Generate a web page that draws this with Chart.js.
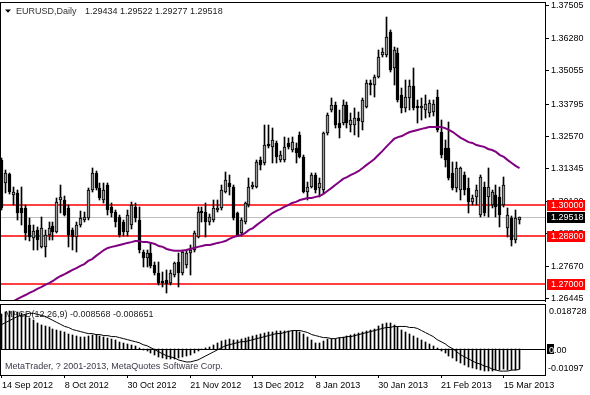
<!DOCTYPE html>
<html><head><meta charset="utf-8">
<script src="https://cdn.jsdelivr.net/npm/chart.js@4/dist/chart.umd.min.js"></script>
<style>
html,body{margin:0;padding:0;background:#fff;}
#wrap{position:relative;width:590px;height:395px;overflow:hidden;background:#fff;}
#c1{position:absolute;left:0;top:0;}
#c2{position:absolute;left:0;top:302px;}
</style></head><body>
<div id="wrap"><canvas id="c1" width="590" height="302"></canvas><canvas id="c2" width="590" height="93"></canvas></div>
<script>
// ---- data (EURUSD daily, 14 Sep 2012 .. 21 Mar 2013) ----
const openP = [
1.3168,1.3081,1.3116,1.3036,1.3044,1.2987,1.2987,1.2923,1.2874,1.2904,
1.2840,1.2840,1.2885,1.2919,1.2896,1.3017,1.3017,1.2987,1.2904,1.2877,
1.2923,1.2942,1.2949,1.3055,1.3119,1.3062,1.3017,1.3074,1.2991,1.2972,
1.2953,1.2934,1.2896,1.2923,1.2991,1.2942,1.2821,1.2798,1.2817,1.2771,
1.2741,1.2711,1.2715,1.2703,1.2734,1.2783,1.2741,1.2771,1.2817,1.2828,
1.2877,1.2976,1.2972,1.2934,1.2942,1.2980,1.2987,1.3047,1.3081,1.3066,
1.2968,1.2892,1.2934,1.2998,1.3066,1.3066,1.3168,1.3157,1.3229,1.3218,
1.3233,1.3168,1.3168,1.3233,1.3206,1.3214,1.3263,1.3180,1.3047,1.3066,
1.3112,1.3062,1.3055,1.3270,1.3357,1.3376,1.3308,1.3308,1.3376,1.3301,
1.3301,1.3327,1.3312,1.3369,1.3459,1.3452,1.3482,1.3565,1.3565,1.3652,
1.3516,1.3573,1.3414,1.3365,1.3403,1.3448,1.3373,1.3365,1.3357,1.3346,
1.3350,1.3407,1.3274,1.3214,1.3214,1.3119,1.3062,1.3055,1.3112,1.3062,
1.3010,1.3029,1.2960,1.3066,1.3029,1.2998,1.3036,1.3029,1.2998,1.2911,
1.2949,1.2866,1.29434];
const highP = [
1.3176,1.3131,1.3119,1.3066,1.3055,1.3066,1.2998,1.2949,1.2923,1.2915,
1.2953,1.2904,1.2934,1.2934,1.3025,1.3074,1.3032,1.2998,1.2911,1.2934,
1.2976,1.2972,1.3062,1.3138,1.3127,1.3081,1.3081,1.3081,1.3006,1.2980,
1.2960,1.2942,1.2980,1.3010,1.3006,1.2991,1.2828,1.2828,1.2855,1.2783,
1.2783,1.2745,1.2753,1.2753,1.2783,1.2817,1.2828,1.2828,1.2847,1.2900,
1.2991,1.2991,1.3006,1.2964,1.3017,1.3017,1.3074,1.3123,1.3112,1.3074,
1.2972,1.2949,1.3010,1.3100,1.3085,1.3168,1.3180,1.3301,1.3301,1.3289,
1.3240,1.3202,1.3255,1.3252,1.3255,1.3233,1.3274,1.3187,1.3085,1.3119,
1.3119,1.3100,1.3274,1.3346,1.3403,1.3388,1.3357,1.3395,1.3388,1.3346,
1.3365,1.3350,1.3403,1.3471,1.3471,1.3490,1.3584,1.3592,1.3709,1.3660,
1.3596,1.3592,1.3441,1.3471,1.3471,1.3516,1.3395,1.3403,1.3414,1.3395,
1.3395,1.3433,1.3320,1.3244,1.3312,1.3161,1.3161,1.3142,1.3123,1.3100,
1.3036,1.3074,1.3112,1.3085,1.3138,1.3055,1.3074,1.3066,1.3104,1.2987,
1.2957,1.2980,1.29522];
const lowP = [
1.2980,1.3044,1.3040,1.2998,1.2942,1.2923,1.2866,1.2862,1.2828,1.2828,
1.2836,1.2802,1.2866,1.2866,1.2892,1.2968,1.2957,1.2840,1.2828,1.2821,
1.2915,1.2934,1.2942,1.3047,1.3055,1.3017,1.3006,1.2960,1.2953,1.2915,
1.2877,1.2881,1.2881,1.2908,1.2934,1.2817,1.2764,1.2764,1.2760,1.2734,
1.2696,1.2688,1.2666,1.2696,1.2726,1.2688,1.2734,1.2760,1.2734,1.2821,
1.2874,1.2934,1.2877,1.2923,1.2934,1.2972,1.2980,1.3044,1.3036,1.2942,
1.2881,1.2881,1.2926,1.2991,1.3059,1.3062,1.3131,1.3150,1.3214,1.3157,
1.3157,1.3161,1.3161,1.3210,1.3199,1.3157,1.3176,1.3044,1.3017,1.3062,
1.3044,1.3029,1.3044,1.3263,1.3350,1.3289,1.3252,1.3301,1.3289,1.3274,
1.3263,1.3255,1.3282,1.3365,1.3414,1.3406,1.3478,1.3558,1.3558,1.3501,
1.3452,1.3388,1.3346,1.3350,1.3357,1.3357,1.3308,1.3320,1.3327,1.3331,
1.3335,1.3274,1.3176,1.3142,1.3093,1.3055,1.3047,1.3017,1.3036,1.2968,
1.2998,1.2998,1.2953,1.2957,1.2953,1.2987,1.2953,1.2915,1.2991,1.2877,
1.2843,1.2855,1.29277];
const closeP = [
1.2987,1.3119,1.3047,1.3047,1.2968,1.2968,1.2892,1.2877,1.2900,1.2866,
1.2911,1.2885,1.2911,1.2896,1.3010,1.3029,1.2960,1.2885,1.2877,1.2923,
1.2949,1.2953,1.3055,1.3119,1.3062,1.3025,1.3055,1.2980,1.2968,1.2934,
1.2885,1.2896,1.2960,1.2998,1.2949,1.2828,1.2798,1.2817,1.2768,1.2741,
1.2703,1.2703,1.2699,1.2741,1.2779,1.2741,1.2821,1.2817,1.2828,1.2892,
1.2972,1.2968,1.2934,1.2953,1.2987,1.2987,1.3055,1.3093,1.3066,1.2949,
1.2885,1.2942,1.3006,1.3066,1.3074,1.3161,1.3150,1.3225,1.3221,1.3244,
1.3180,1.3187,1.3218,1.3218,1.3236,1.3195,1.3180,1.3047,1.3066,1.3112,
1.3055,1.3081,1.3270,1.3338,1.3376,1.3301,1.3289,1.3376,1.3308,1.3320,
1.3327,1.3316,1.3395,1.3459,1.3452,1.3482,1.3558,1.3577,1.3633,1.3509,
1.3584,1.3395,1.3365,1.3406,1.3448,1.3365,1.3365,1.3373,1.3380,1.3384,
1.3380,1.3282,1.3187,1.3168,1.3100,1.3062,1.3138,1.3138,1.3055,1.3010,
1.3025,1.3055,1.3104,1.2968,1.3066,1.3047,1.2991,1.2960,1.3074,1.2960,
1.2866,1.2949,1.29518];
const maValues = [
1.2620,1.2628,1.2632,1.2635,1.2643,1.2651,1.2658,1.2666,1.2673,1.2681,
1.2688,1.2696,1.2703,1.2711,1.2722,1.2730,1.2737,1.2745,1.2753,1.2760,
1.2768,1.2775,1.2787,1.2794,1.2806,1.2817,1.2828,1.2836,1.2840,1.2843,
1.2847,1.2851,1.2855,1.2858,1.2862,1.2862,1.2858,1.2858,1.2855,1.2851,
1.2843,1.2840,1.2832,1.2828,1.2825,1.2825,1.2825,1.2828,1.2832,1.2836,
1.2840,1.2843,1.2847,1.2847,1.2851,1.2855,1.2858,1.2862,1.2870,1.2877,
1.2881,1.2885,1.2892,1.2904,1.2911,1.2923,1.2934,1.2945,1.2957,1.2968,
1.2976,1.2983,1.2991,1.2998,1.3006,1.3010,1.3017,1.3021,1.3025,1.3025,
1.3029,1.3032,1.3040,1.3051,1.3062,1.3074,1.3085,1.3097,1.3104,1.3112,
1.3119,1.3127,1.3138,1.3150,1.3161,1.3172,1.3187,1.3202,1.3218,1.3233,
1.3248,1.3255,1.3259,1.3267,1.3274,1.3278,1.3282,1.3286,1.3289,1.3293,
1.3293,1.3293,1.3293,1.3289,1.3282,1.3274,1.3263,1.3252,1.3244,1.3236,
1.3233,1.3225,1.3221,1.3218,1.3210,1.3206,1.3199,1.3187,1.3180,1.3168,
1.3157,1.3146,1.3138];
const macdMain = [
0.01442,0.01526,0.01569,0.01569,0.01526,0.01484,0.01399,0.01272,0.01187,0.01060,
0.00975,0.00933,0.00890,0.00848,0.00806,0.00763,0.00721,0.00636,0.00594,0.00551,
0.00509,0.00509,0.00551,0.00594,0.00594,0.00551,0.00509,0.00466,0.00424,0.00382,
0.00297,0.00254,0.00212,0.00170,0.00127,0.00042,-0.00042,-0.00085,-0.00170,-0.00254,
-0.00339,-0.00382,-0.00424,-0.00424,-0.00424,-0.00382,-0.00339,-0.00297,-0.00254,-0.00170,
-0.00085,-0.00021,0.00042,0.00085,0.00170,0.00254,0.00339,0.00382,0.00424,0.00382,
0.00382,0.00424,0.00466,0.00509,0.00551,0.00594,0.00636,0.00678,0.00721,0.00721,
0.00763,0.00763,0.00763,0.00763,0.00763,0.00763,0.00721,0.00636,0.00509,0.00382,
0.00254,0.00254,0.00339,0.00424,0.00424,0.00424,0.00466,0.00509,0.00551,0.00594,
0.00636,0.00678,0.00721,0.00763,0.00806,0.00848,0.00933,0.01018,0.01060,0.01060,
0.00975,0.00890,0.00806,0.00721,0.00636,0.00551,0.00466,0.00382,0.00297,0.00212,
0.00127,0.00042,-0.00085,-0.00170,-0.00297,-0.00382,-0.00509,-0.00594,-0.00678,-0.00763,
-0.00806,-0.00848,-0.00890,-0.00933,-0.00933,-0.00933,-0.00890,-0.00890,-0.00848,-0.00890,
-0.00890,-0.00890,-0.008568];
const macdSignal = [
0.01018,0.01102,0.01187,0.01272,0.01357,0.01399,0.01442,0.01484,0.01484,0.01442,
0.01399,0.01357,0.01272,0.01187,0.01102,0.01018,0.00933,0.00890,0.00806,0.00763,
0.00721,0.00678,0.00636,0.00636,0.00594,0.00594,0.00551,0.00551,0.00509,0.00509,
0.00466,0.00424,0.00382,0.00339,0.00297,0.00254,0.00170,0.00127,0.00042,-0.00042,
-0.00127,-0.00212,-0.00297,-0.00339,-0.00382,-0.00466,-0.00509,-0.00551,-0.00551,-0.00509,
-0.00466,-0.00382,-0.00297,-0.00212,-0.00127,-0.00042,0.00042,0.00127,0.00170,0.00212,
0.00254,0.00297,0.00297,0.00339,0.00382,0.00424,0.00466,0.00509,0.00551,0.00594,
0.00636,0.00636,0.00678,0.00721,0.00763,0.00763,0.00763,0.00721,0.00678,0.00594,
0.00551,0.00509,0.00466,0.00466,0.00424,0.00424,0.00466,0.00466,0.00509,0.00509,
0.00551,0.00594,0.00636,0.00678,0.00721,0.00763,0.00806,0.00848,0.00890,0.00890,
0.00933,0.00933,0.00933,0.00933,0.00890,0.00890,0.00848,0.00763,0.00678,0.00594,
0.00509,0.00382,0.00297,0.00212,0.00085,0.00000,-0.00127,-0.00254,-0.00339,-0.00424,
-0.00509,-0.00594,-0.00636,-0.00721,-0.00763,-0.00848,-0.00890,-0.00933,-0.00933,-0.00933,
-0.00890,-0.00890,-0.008651];
const priceTicks = [1.37505,1.36280,1.35055,1.33795,1.32570,1.31345,1.30120,1.28895,1.27670,1.26445];
const levelLines = [1.30000,1.28800,1.27000];
const lastPrice = 1.29518;
const dateTicks = ['14 Sep 2012','8 Oct 2012','30 Oct 2012','21 Nov 2012','13 Dec 2012','8 Jan 2013','30 Jan 2013','21 Feb 2013','15 Mar 2013'];
const TICK_EVERY = 16;
const EXTRA_SLOTS = 6;
const priceMin = 1.26354, priceMax = 1.37656;
const macdMin = -0.01097, macdMax = 0.018728;
const titleText = 'EURUSD,Daily';
const titleOHLC = '1.29434 1.29522 1.29277 1.29518';
const macdTitle = 'MACD(12,26,9) -0.008568 -0.008651';
const copyright = 'MetaTrader, ? 2001-2013, MetaQuotes Software Corp.';

// ---- chart setup ----
const FAM = '"Liberation Sans", Arial, sans-serif';
const FONT = '9px ' + FAM;
Chart.defaults.font.family = FAM;
Chart.defaults.font.size = 9;
Chart.defaults.color = '#000';

const N = closeP.length + EXTRA_SLOTS;
const labels = Array.from({length:N}, (_, i) => String(i));
const wickData = highP.map((h, i) => [lowP[i], h]);
const bodyData = openP.map((o, i) => [o, closeP[i]]);
const bodyFill = openP.map((o, i) => closeP[i] >= o ? '#999999' : '#000000');

const snapBars = {
  id: 'snapBars',
  afterDatasetsUpdate(chart) {
    chart.getSortedVisibleDatasetMetas().forEach(meta => {
      if (meta.type !== 'bar') return;
      meta.data.forEach(el => {
        if (!el || isNaN(el.x)) return;
        el.x = Math.floor(el.x) + 0.5;
        el.y = Math.round(el.y);
        el.base = Math.round(el.base);
      });
    });
  }
};

function hLine(ctx, a, y, color, w) {
  ctx.strokeStyle = color; ctx.lineWidth = w;
  ctx.beginPath(); ctx.moveTo(a.left, y); ctx.lineTo(a.right, y); ctx.stroke();
}

const mainDecor = {
  id: 'mainDecor',
  beforeDatasetsDraw(chart) {
    const {ctx, chartArea: a, scales: {y}} = chart;
    ctx.save();
    hLine(ctx, a, Math.round(y.getPixelForValue(lastPrice)) + 0.5, '#c0c0c0', 1);
    levelLines.forEach(v => hLine(ctx, a, Math.round(y.getPixelForValue(v)), '#ff0000', 1.6));
    ctx.restore();
  },
  afterDraw(chart) {
    const {ctx, chartArea: a, scales: {y}} = chart;
    ctx.save();
    ctx.strokeStyle = '#000'; ctx.lineWidth = 1;
    ctx.strokeRect(a.left + 0.5, a.top + 0.5, a.right - a.left, a.bottom - a.top - 1);
    ctx.fillStyle = '#000';
    ctx.beginPath(); ctx.moveTo(5, 9.5); ctx.lineTo(11, 9.5); ctx.lineTo(8, 12.8); ctx.closePath(); ctx.fill();
    ctx.font = FONT; ctx.textBaseline = 'alphabetic'; ctx.textAlign = 'left';
    ctx.fillStyle = '#333';
    ctx.fillText(titleText, 16, 14);
    ctx.fillStyle = '#222';
    ctx.fillText(titleOHLC, 85, 14);
    const box = (v, bg) => {
      const p = Math.round(y.getPixelForValue(v));
      ctx.fillStyle = bg;
      ctx.fillRect(547, p - 5, 38, 11);
      ctx.fillStyle = '#fff';
      ctx.textBaseline = 'middle';
      ctx.fillText(v.toFixed(5), 551, p + 0.5);
    };
    levelLines.forEach(v => box(v, '#ff0000'));
    box(lastPrice, '#000');
    ctx.restore();
  }
};

new Chart(document.getElementById('c1'), {
  type: 'bar',
  data: {
    labels,
    datasets: [
      {type: 'line', data: maValues, borderColor: '#800080', borderWidth: 2, pointRadius: 0, tension: 0, order: 0},
      {type: 'bar', data: bodyData, backgroundColor: bodyFill, borderColor: '#000', borderWidth: 1,
       borderSkipped: false, barThickness: 3, minBarLength: 1, grouped: false, order: 1},
      {type: 'bar', data: wickData, backgroundColor: '#000', borderWidth: 0, barThickness: 1, grouped: false, order: 2}
    ]
  },
  options: {
    responsive: false, animation: false, events: [],
    layout: {padding: {left: 0, right: 0, top: 2, bottom: 1}},
    plugins: {legend: {display: false}, tooltip: {enabled: false}},
    scales: {
      x: {type: 'category', display: false, offset: true},
      y: {
        position: 'right', min: priceMin, max: priceMax,
        afterBuildTicks(s) { s.ticks = priceTicks.map(v => ({value: v})); },
        afterFit(s) { s.width = 45; s.paddingTop = 0; s.paddingBottom = 0; },
        ticks: {autoSkip: false, padding: 2, color: '#000', font: {size: 9, family: FAM},
                callback: v => Number(v).toFixed(5)},
        grid: {drawOnChartArea: false, tickLength: 4, color: '#000'},
        border: {display: true, color: '#000'}
      }
    }
  },
  plugins: [snapBars, mainDecor]
});

const macdDecor = {
  id: 'macdDecor',
  beforeDatasetsDraw(chart) {
    const {ctx, chartArea: a, scales: {y}} = chart;
    ctx.save();
    hLine(ctx, a, Math.round(y.getPixelForValue(0)) + 0.5, '#000', 1);
    ctx.font = FONT; ctx.textAlign = 'left'; ctx.textBaseline = 'alphabetic';
    ctx.fillStyle = '#222';
    ctx.fillText(macdTitle, 5, a.top + 13);
    ctx.restore();
  },
  afterDraw(chart) {
    const {ctx, chartArea: a, scales: {y}} = chart;
    ctx.save();
    ctx.strokeStyle = '#000'; ctx.lineWidth = 1;
    ctx.strokeRect(a.left + 0.5, a.top + 0.5, a.right - a.left, a.bottom - a.top);
    ctx.font = FONT; ctx.textAlign = 'left'; ctx.textBaseline = 'alphabetic';
    ctx.fillStyle = '#3a3a4a';
    ctx.fillText(copyright, 5, a.bottom - 6);
    ctx.fillStyle = '#000';
    ctx.fillText(String(macdMax), 549, a.top + 10);
    ctx.fillText(String(macdMin), 548, a.bottom - 4);
    const z = Math.round(y.getPixelForValue(0));
    ctx.fillText('0.00', 549, z + 4);
    ctx.fillRect(547, z - 5, 7, 10);
    ctx.save();
    ctx.beginPath(); ctx.rect(547, z - 5, 7, 10); ctx.clip();
    ctx.fillStyle = '#fff';
    ctx.fillText('0.00', 549, z + 4);
    ctx.restore();
    ctx.restore();
  }
};

new Chart(document.getElementById('c2'), {
  type: 'bar',
  data: {
    labels,
    datasets: [
      {type: 'line', data: macdSignal, borderColor: '#000', borderWidth: 1, pointRadius: 0, tension: 0, order: 0},
      {type: 'bar', data: macdMain, backgroundColor: '#000', borderWidth: 0, barThickness: 1, grouped: false, order: 1}
    ]
  },
  options: {
    responsive: false, animation: false, events: [],
    layout: {padding: {left: 0, right: 0, top: 2, bottom: 0}},
    plugins: {legend: {display: false}, tooltip: {enabled: false}},
    scales: {
      x: {
        type: 'category', offset: true,
        afterFit(s) { s.height = 20; s.paddingLeft = 0; s.paddingRight = 0; },
        grid: {drawOnChartArea: false, offset: false, tickLength: 3,
               color: c => (c.index % TICK_EVERY === 0 ? '#000' : 'rgba(0,0,0,0)'),
               tickColor: c => (c.index % TICK_EVERY === 0 ? '#000' : 'rgba(0,0,0,0)')},
        border: {display: true, color: '#000'},
        ticks: {autoSkip: false, maxRotation: 0, minRotation: 0, align: 'start', padding: 2,
                color: '#000', font: {size: 9, family: FAM},
                callback: (v, i) => (i % TICK_EVERY === 0 && dateTicks[i / TICK_EVERY]) ? dateTicks[i / TICK_EVERY] : ''}
      },
      y: {
        position: 'right', min: macdMin, max: macdMax,
        afterFit(s) { s.width = 45; s.paddingTop = 0; s.paddingBottom = 0; },
        ticks: {display: false},
        grid: {display: false, drawTicks: false},
        border: {display: true, color: '#000'}
      }
    }
  },
  plugins: [snapBars, macdDecor]
});
</script>
</body></html>
